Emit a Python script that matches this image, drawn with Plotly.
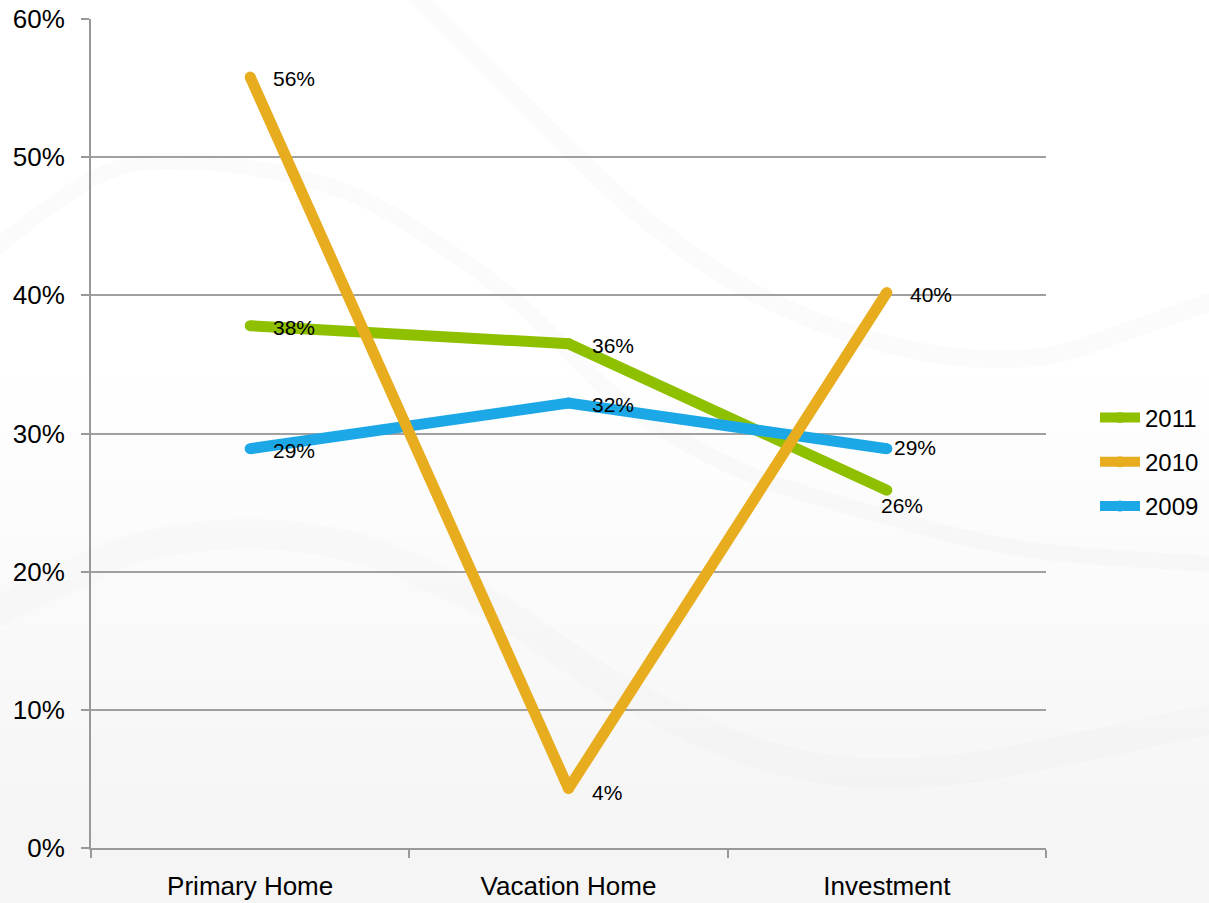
import plotly.graph_objects as go

categories = ["Primary Home", "Vacation Home", "Investment"]
s2011 = [37.8, 36.5, 25.9]
s2010 = [55.8, 4.3, 40.2]
s2009 = [28.9, 32.2, 28.9]
labels2011 = ["38%", "36%", "26%"]
labels2010 = ["56%", "4%", "40%"]
labels2009 = ["29%", "32%", "29%"]
y_ticks = [0, 10, 20, 30, 40, 50, 60]
y_ticktext = ["{}%".format(v) for v in y_ticks]

GREEN = "#8FC000"
ORANGE = "#E8AD1F"
BLUE = "#1CA8E6"
FONT = "Liberation Sans, Arial, sans-serif"
LW = 11

# plot area in pixels
L, R, T, B = 91, 1046, 19, 848
W, H = 1209, 903


def px(x):
    return (x - L) / (R - L)


def py(y):
    return (B - y) / (B - T)


fig = go.Figure()

series = [
    ("2011", s2011, GREEN, 1, "g1"),
    ("2009", s2009, BLUE, 3, "g3"),
    ("2010", s2010, ORANGE, 2, "g2"),
]
for name, vals, col, rank, grp in series:
    fig.add_trace(go.Scatter(
        x=categories, y=vals, name=name, mode="lines+markers",
        line=dict(color=col, width=LW),
        marker=dict(color=col, size=LW, line=dict(width=0)),
        legendrank=rank, legendgroup=grp,
        hoverinfo="skip",
    ))

# data labels
label_specs = []
for i, c in enumerate(categories):
    label_specs.append((c, s2010[i], labels2010[i]))
    label_specs.append((c, s2011[i], labels2011[i]))
    label_specs.append((c, s2009[i], labels2009[i]))

annotations = []
offsets = {
    ("Primary Home", "56%"): (21, -1, "left"),
    ("Primary Home", "38%"): (21, -2, "left"),
    ("Primary Home", "29%"): (21, -2, "left"),
    ("Vacation Home", "36%"): (21, -2, "left"),
    ("Vacation Home", "32%"): (21, -1, "left"),
    ("Vacation Home", "4%"): (21, -4, "left"),
    ("Investment", "40%"): (21, -2, "left"),
    ("Investment", "29%"): (5, 1, "left"),
    ("Investment", "26%"): (15, -15, "center"),
}
for c, v, t in label_specs:
    dx, dy, xa = offsets[(c, t)]
    annotations.append(dict(
        x=c, y=v, xref="x", yref="y", text=t, showarrow=False,
        xanchor=xa, yanchor="middle", xshift=dx, yshift=dy,
        font=dict(family=FONT, size=21, color="#000000"),
    ))


# faint decorative background (paper coords converted from pixels)
def smooth_path(points):
    pts = [(px(x), py(y)) for x, y in points]
    d = "M {:.4f} {:.4f}".format(*pts[0])
    for i in range(len(pts) - 1):
        p0 = pts[i - 1] if i > 0 else pts[i]
        p1 = pts[i]
        p2 = pts[i + 1]
        p3 = pts[i + 2] if i + 2 < len(pts) else pts[i + 1]
        c1 = (p1[0] + (p2[0] - p0[0]) / 6, p1[1] + (p2[1] - p0[1]) / 6)
        c2 = (p2[0] - (p3[0] - p1[0]) / 6, p2[1] - (p3[1] - p1[1]) / 6)
        d += " C {:.4f} {:.4f}, {:.4f} {:.4f}, {:.4f} {:.4f}".format(c1[0], c1[1], c2[0], c2[1], p2[0], p2[1])
    return d


shapes = []
# soft vertical tint, stronger toward bottom
for k in range(10):
    y0 = 380 + k * 50
    shapes.append(dict(
        type="rect", xref="paper", yref="paper",
        x0=px(-20), x1=px(W + 20), y0=py(y0), y1=py(H + 20),
        fillcolor="rgba(215,215,228,0.03)", line=dict(width=0), layer="below",
    ))

swooshes = [
    ([(-20, 260), (100, 175), (200, 162), (333, 187), (433, 240), (523, 307), (620, 400),
      (740, 470), (880, 515), (1030, 550), (1230, 565)], 16, 0.03),
    ([(400, -20), (480, 60), (560, 140), (640, 215), (740, 285), (840, 330), (940, 355),
      (1040, 357), (1130, 330), (1230, 295)], 18, 0.03),
    ([(-20, 620), (150, 545), (320, 540), (480, 600), (620, 690), (780, 760), (950, 770),
      (1230, 715)], 30, 0.022),
]
for pts, wdt, op in swooshes:
    shapes.append(dict(
        type="path", path=smooth_path(pts), xref="paper", yref="paper",
        line=dict(color="rgba(120,120,140,{})".format(op), width=wdt),
        layer="below",
    ))

fig.update_layout(
    width=W, height=H,
    margin=dict(l=L, r=W - R, t=T, b=H - B, pad=0, autoexpand=False),
    paper_bgcolor="#FFFFFF",
    plot_bgcolor="rgba(0,0,0,0)",
    font=dict(family=FONT, size=24, color="#000000"),
    showlegend=True,
    legend=dict(
        x=px(1095), y=py(462), xanchor="left", yanchor="middle",
        font=dict(family=FONT, size=24, color="#000000"),
        bgcolor="rgba(0,0,0,0)", tracegroupgap=10, itemwidth=40,
    ),
    xaxis=dict(
        type="category", range=[-0.5, 2.5], automargin=False,
        showline=True, linecolor="#999999", linewidth=2,
        ticks="outside", tickson="boundaries", ticklen=8, tickcolor="#999999", tickwidth=2,
        showgrid=False, zeroline=False,
        tickfont=dict(family=FONT, size=26, color="#000000"),
        ticklabelstandoff=14,
    ),
    yaxis=dict(
        range=[0, 60], tickvals=y_ticks, ticktext=y_ticktext, automargin=False,
        showline=True, linecolor="#999999", linewidth=2,
        ticks="outside", ticklen=8, tickcolor="#999999", tickwidth=2,
        showgrid=True, gridcolor="#A0A0A0", gridwidth=2,
        zeroline=False,
        tickfont=dict(family=FONT, size=26, color="#000000"),
        ticklabelstandoff=11,
    ),
    annotations=annotations,
    shapes=shapes,
)

fig.write_html(
    "out.html",
    config={"displayModeBar": False},
    post_script="document.body.style.margin='0';document.body.style.padding='0';",
)
